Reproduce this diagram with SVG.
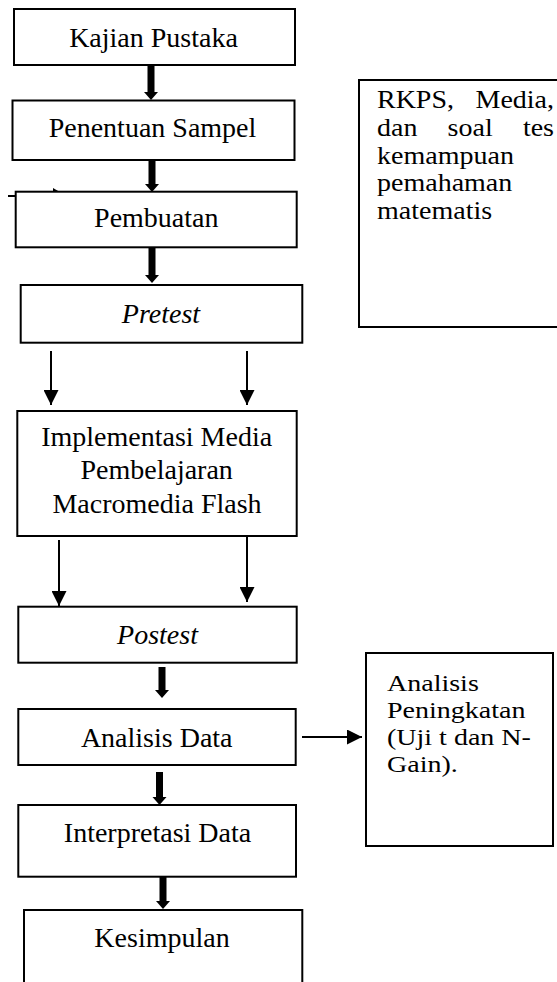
<svg xmlns="http://www.w3.org/2000/svg" width="557" height="982" viewBox="0 0 557 982">
<style>
.box{fill:#fff;stroke:#000;stroke-width:2}
.t{font-family:"Liberation Serif","Times New Roman",serif;font-size:28px;fill:#000}
.s{font-family:"Liberation Serif","Times New Roman",serif;font-size:24.5px;fill:#000}
.s2{font-family:"Liberation Serif","Times New Roman",serif;font-size:24px;fill:#000}
.c{text-anchor:middle}
.i{font-style:italic}
.thick{fill:#000}
.thin{stroke:#000;stroke-width:2;fill:none;marker-end:url(#ah)}
</style>
<defs>
<marker id="ah" markerUnits="userSpaceOnUse" markerWidth="15" markerHeight="15" refX="15" refY="7.5" orient="auto" viewBox="0 0 15 15">
<path d="M0,0 L15,7.5 L0,15 z" fill="#000"/>
</marker>
</defs>
<rect width="557" height="982" fill="#fff"/>
<g id="connectors">
<polygon class="thick" points="147.5,65 154.5,65 154.5,92 158,92 151,100 144,92 147.5,92"/>
<polygon class="thick" points="148.5,160 155.5,160 155.5,184 159,184 152,192 145,184 148.5,184"/>
<polygon class="thick" points="148.5,247 155.5,247 155.5,275 159,275 152,283 145,275 148.5,275"/>
<polygon class="thick" points="158.5,667 165.5,667 165.5,690 169,690 162,698 155,690 158.5,690"/>
<polygon class="thick" points="156,772 163,772 163,797 166.5,797 159.5,805 152.5,797 156,797"/>
<polygon class="thick" points="159.5,877 166.5,877 166.5,901 170,901 163,909 156,901 159.5,901"/>
<line class="thin" x1="51" y1="351" x2="51" y2="405"/>
<line class="thin" x1="247" y1="351" x2="247" y2="405"/>
<line class="thin" x1="59" y1="540" x2="59" y2="606"/>
<line class="thin" x1="247" y1="537" x2="247" y2="602"/>
<line class="thin" x1="302" y1="737" x2="362" y2="737"/>
<line x1="8" y1="196" x2="16" y2="196" stroke="#000" stroke-width="2"/>
<polygon points="53,188 59,191.5 53,191.5" fill="#000"/>
</g>
<g id="kajian">
<rect class="box" x="14" y="9" width="281" height="56"/>
<text class="t c" x="153.5" y="47">Kajian Pustaka</text>
</g>
<g id="penentuan">
<rect class="box" x="12.5" y="100.5" width="282" height="59.5"/>
<text class="t c" x="152.5" y="136.5">Penentuan Sampel</text>
</g>
<g id="pembuatan">
<rect class="box" x="15.7" y="191.7" width="281" height="55.6"/>
<text class="t c" x="156.3" y="226.5">Pembuatan</text>
</g>
<g id="pretest">
<rect class="box" x="20.7" y="285" width="281.6" height="57.7"/>
<text class="t c i" x="161" y="323.3">Pretest</text>
</g>
<g id="implementasi">
<rect class="box" x="17.3" y="411" width="279.4" height="125"/>
<text class="t c" x="156.7" y="446">Implementasi Media</text>
<text class="t c" x="156.7" y="479.3">Pembelajaran</text>
<text class="t c" x="157" y="512.7">Macromedia Flash</text>
</g>
<g id="postest">
<rect class="box" x="18.3" y="606.7" width="278.4" height="56"/>
<text class="t c i" x="157.5" y="644">Postest</text>
</g>
<g id="analisis-data">
<rect class="box" x="18.3" y="709" width="277.4" height="56"/>
<text class="t c" x="156.7" y="747">Analisis Data</text>
</g>
<g id="interpretasi">
<rect class="box" x="18.3" y="805" width="277.7" height="71.7"/>
<text class="t c" x="157.5" y="841.7">Interpretasi Data</text>
</g>
<g id="kesimpulan">
<rect class="box" x="24" y="910" width="278.3" height="90"/>
<text class="t c" x="162" y="947">Kesimpulan</text>
</g>
<g id="rkps">
<rect class="box" x="359" y="80" width="210" height="247"/>
<text class="s" x="377" y="108" textLength="77" lengthAdjust="spacingAndGlyphs">RKPS,</text>
<text class="s" x="475.5" y="108" textLength="78.5" lengthAdjust="spacingAndGlyphs">Media,</text>
<text class="s" x="377" y="136" textLength="40.4" lengthAdjust="spacingAndGlyphs">dan</text>
<text class="s" x="447.6" y="136" textLength="45.1" lengthAdjust="spacingAndGlyphs">soal</text>
<text class="s" x="522.9" y="136" textLength="31.1" lengthAdjust="spacingAndGlyphs">tes</text>
<text class="s" x="377" y="163.5" textLength="136.9" lengthAdjust="spacingAndGlyphs">kemampuan</text>
<text class="s" x="377" y="191" textLength="135.3" lengthAdjust="spacingAndGlyphs">pemahaman</text>
<text class="s" x="377" y="218.5" textLength="115.1" lengthAdjust="spacingAndGlyphs">matematis</text>
</g>
<g id="analisis-peningkatan">
<rect class="box" x="366" y="653" width="187" height="193"/>
<text class="s2" x="387" y="690.5" textLength="91.8" lengthAdjust="spacingAndGlyphs">Analisis</text>
<text class="s2" x="387" y="717.5" textLength="138.4" lengthAdjust="spacingAndGlyphs">Peningkatan</text>
<text class="s2" x="387" y="744.5" textLength="143.9" lengthAdjust="spacingAndGlyphs">(Uji t dan N-</text>
<text class="s2" x="387" y="771.5" textLength="70.8" lengthAdjust="spacingAndGlyphs">Gain).</text>
</g>
</svg>
